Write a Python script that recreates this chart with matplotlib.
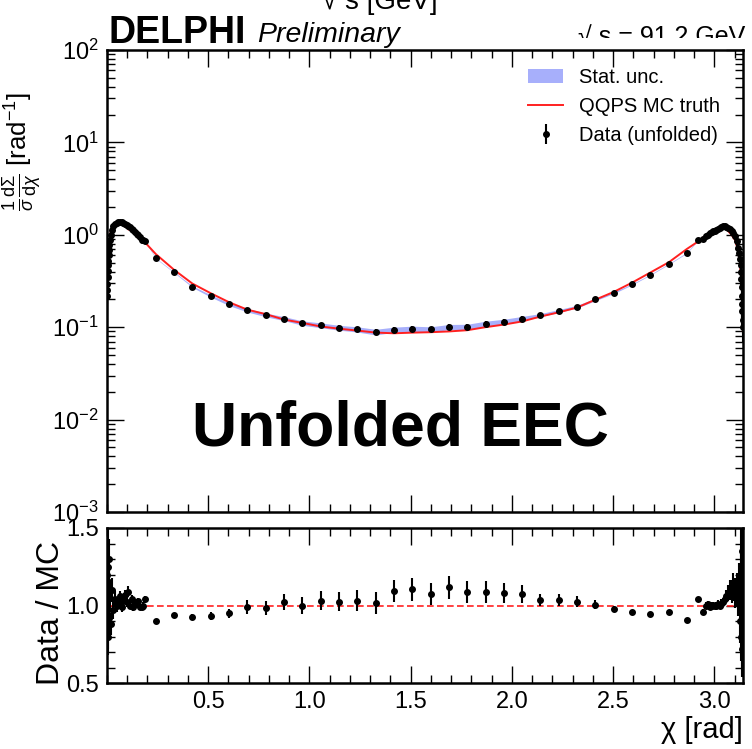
import numpy as np
import matplotlib
matplotlib.use('Agg')
import matplotlib.pyplot as plt
from matplotlib.ticker import MultipleLocator, LogLocator, NullFormatter, FixedLocator
from matplotlib.patches import Rectangle

plt.rcParams['font.family'] = ['Liberation Sans', 'DejaVu Sans']
plt.rcParams['mathtext.fontset'] = 'custom'
plt.rcParams['mathtext.rm'] = 'Liberation Sans'
plt.rcParams['mathtext.it'] = 'Liberation Sans:italic'
plt.rcParams['mathtext.bf'] = 'Liberation Sans:bold'
plt.rcParams['mathtext.sf'] = 'Liberation Sans'

# ---------------- data ----------------
x_left = [0.001, 0.0015, 0.002, 0.003, 0.004, 0.005, 0.006, 0.008, 0.010, 0.012, 0.015,
          0.019, 0.023, 0.031, 0.040, 0.048, 0.056, 0.064, 0.072, 0.081, 0.089, 0.097,
          0.106, 0.114, 0.122, 0.130, 0.139, 0.147, 0.155, 0.164, 0.172, 0.180, 0.188]
data_left = [0.22, 0.25, 0.29, 0.35, 0.41, 0.47, 0.52, 0.61, 0.69, 0.77, 0.87,
             0.99, 1.12, 1.25, 1.30, 1.34, 1.37, 1.39, 1.37, 1.34, 1.31, 1.29,
             1.24, 1.20, 1.16, 1.13, 1.08, 1.03, 1.00, 0.94, 0.88, 0.87, 0.86]
ratio_left = [0.95, 1.20, 0.85, 1.25, 0.90, 1.10, 0.80, 1.15, 0.92, 1.30, 1.05,
              0.88, 1.10, 0.97, 1.04, 1.00, 1.02, 1.06, 0.99, 1.03, 1.07, 1.02,
              1.09, 1.00, 1.04, 0.99, 1.02, 1.01, 1.03, 0.99, 0.99, 1.00, 1.04]
err_left = [0.30, 0.28, 0.25, 0.22, 0.20, 0.18, 0.15, 0.13, 0.12, 0.10, 0.09,
            0.08, 0.07, 0.06, 0.05, 0.04, 0.035, 0.03, 0.03, 0.03, 0.03, 0.03,
            0.03, 0.025, 0.025, 0.025, 0.02, 0.02, 0.02, 0.02, 0.02, 0.02, 0.02]

x_mid = [0.241, 0.331, 0.422, 0.512, 0.603, 0.693, 0.784, 0.874, 0.965, 1.055,
         1.146, 1.236, 1.327, 1.417, 1.508, 1.598, 1.689, 1.779, 1.870, 1.960,
         2.051, 2.141, 2.232, 2.322, 2.413, 2.503, 2.594, 2.684, 2.775, 2.865]
data_mid = [0.557, 0.393, 0.275, 0.218, 0.177, 0.153, 0.136, 0.124, 0.111, 0.105,
            0.0988, 0.0948, 0.0887, 0.094, 0.0964, 0.0948, 0.1005, 0.101, 0.109, 0.115,
            0.124, 0.135, 0.150, 0.167, 0.200, 0.236, 0.291, 0.370, 0.483, 0.640]
ratio_mid = [0.900, 0.939, 0.928, 0.934, 0.950, 0.988, 0.982, 1.025, 0.997, 1.031,
             1.025, 1.031, 1.014, 1.094, 1.104, 1.074, 1.117, 1.089, 1.089, 1.078,
             1.074, 1.035, 1.035, 1.023, 1.006, 0.980, 0.958, 0.947, 0.958, 0.909]
err_mid = [0.008, 0.010, 0.020, 0.028, 0.032, 0.045, 0.045, 0.050, 0.055, 0.060,
           0.060, 0.065, 0.070, 0.065, 0.065, 0.065, 0.065, 0.065, 0.065, 0.060,
           0.055, 0.040, 0.035, 0.035, 0.030, 0.020, 0.012, 0.010, 0.010, 0.010]

x_right = [2.919, 2.944, 2.961, 2.969, 2.977, 2.986, 2.994, 3.002, 3.010, 3.019, 3.027,
           3.035, 3.044, 3.052, 3.060, 3.069, 3.077, 3.085, 3.093, 3.101, 3.110, 3.118,
           3.122, 3.127, 3.130, 3.132, 3.134, 3.136, 3.137, 3.138, 3.139, 3.140, 3.141]
data_right = [0.88, 0.90, 0.98, 1.00, 1.04, 1.06, 1.09, 1.11, 1.14, 1.16, 1.18,
              1.21, 1.25, 1.23, 1.21, 1.18, 1.15, 1.10, 1.05, 0.96, 0.85, 0.72,
              0.64, 0.55, 0.47, 0.40, 0.33, 0.27, 0.22, 0.18, 0.15, 0.12, 0.10]
ratio_right = [1.042, 0.96, 1.00, 1.01, 0.99, 1.00, 1.005, 0.995, 1.00, 1.01, 1.00,
               1.01, 1.02, 1.04, 1.06, 1.08, 1.10, 1.09, 1.12, 1.08, 1.10, 1.06,
               1.12, 0.90, 1.15, 0.80, 1.25, 0.72, 1.35, 0.85, 1.20, 0.95, 1.10]
err_right = [0.015, 0.015, 0.02, 0.02, 0.02, 0.02, 0.02, 0.02, 0.025, 0.025, 0.025,
             0.03, 0.03, 0.035, 0.04, 0.05, 0.06, 0.07, 0.08, 0.09, 0.10, 0.12,
             0.14, 0.16, 0.18, 0.20, 0.22, 0.25, 0.28, 0.30, 0.30, 0.30, 0.30]

x_tick_labels = ['0.5', '1.0', '1.5', '2.0', '2.5', '3.0']
ratio_tick_labels = ['0.5', '1.0', '1.5']

x = np.array(x_left + x_mid + x_right)
data = np.array(data_left + data_mid + data_right)
ratio = np.array(ratio_left + ratio_mid + ratio_right)
relerr = np.array(err_left + err_mid + err_right)
mc = data / ratio

# ---------------- figure ----------------
fig = plt.figure(figsize=(7.52, 7.49), dpi=100)
W, H = 752.0, 749.0
ax1 = fig.add_axes([107 / W, 1 - 512 / H, 636 / W, 462 / H])
ax2 = fig.add_axes([107 / W, 1 - 683 / H, 636 / W, 155 / H])

band = ax1.fill_between(x, data * (1 - relerr), data * (1 + relerr),
                        color='#9ea6fb', lw=0, alpha=0.9, label='Stat. unc.')
mcline, = ax1.plot(x, mc, color='#ff2020', lw=1.4, label='QQPS MC truth')
eb = ax1.errorbar(x, data, yerr=data * relerr, fmt='o', color='black', ms=4,
                  elinewidth=1.5, capsize=0, label='Data (unfolded)')

ax1.set_yscale('log')
ax1.set_ylim(1e-3, 1e2)
ax1.set_xlim(0, np.pi)

xt = [float(s) for s in x_tick_labels]
for ax in (ax1, ax2):
    ax.tick_params(which='both', direction='in', top=True, right=True,
                   labelsize=17, pad=6)
    ax.tick_params(which='major', length=12, width=1.0)
    ax.tick_params(which='minor', length=6, width=1.0)
    for s in ax.spines.values():
        s.set_linewidth(1.8)
    ax.xaxis.set_major_locator(FixedLocator(xt))
    ax.xaxis.set_minor_locator(MultipleLocator(0.1))

ax1.yaxis.set_major_locator(LogLocator(base=10, numticks=10))
ax1.yaxis.set_minor_locator(LogLocator(base=10, subs=np.arange(2, 10), numticks=20))
ax1.yaxis.set_minor_formatter(NullFormatter())
ax1.tick_params(axis='x', labelbottom=False)

fig.text(22 / W, 1 - 152 / H,
         r'$\frac{1}{\sigma}\frac{\mathrm{d}\Sigma}{\mathrm{d}\chi}$ [rad$^{-1}$]',
         fontsize=18.5, rotation=90, ha='center', va='center')

leg = ax1.legend(handles=[band, mcline, eb],
                 labels=['Stat. unc.', 'QQPS MC truth', 'Data (unfolded)'],
                 loc='upper left', bbox_to_anchor=(528 / W, 1 - 68 / H),
                 bbox_transform=fig.transFigure, frameon=False, fontsize=14.5,
                 handlelength=1.75, handletextpad=0.8, labelspacing=0.5,
                 borderpad=0, borderaxespad=0)

# ratio panel
ax2.errorbar(x, ratio, yerr=ratio * relerr, fmt='o', color='black', ms=4,
             elinewidth=1.5, capsize=0, zorder=3)
ax2.axhline(1.0, color='#ff2020', lw=1.2, ls=(0, (4, 2)), zorder=2)
ax2.set_xlim(0, np.pi)
ax2.set_ylim(0.5, 1.5)
ax2.set_xticklabels(x_tick_labels)
ax2.yaxis.set_major_locator(FixedLocator([float(s) for s in ratio_tick_labels]))
ax2.yaxis.set_minor_locator(MultipleLocator(0.1))
ax2.set_yticklabels(ratio_tick_labels)
ax2.set_ylabel('Data / MC', fontsize=23)
ax2.yaxis.set_label_coords(-0.065, 0.45)
ax2.set_xlabel('χ [rad]', fontsize=21, loc='right', labelpad=2)

# header texts
fig.text(108 / W, 1 - 43 / H, 'DELPHI', fontsize=27, fontweight='bold', va='baseline')
fig.text(257 / W, 1 - 42 / H, 'Preliminary', fontsize=20.5, style='italic', va='baseline')
fig.text(745 / W, 1 - 44 / H, '√ s = 91.2 GeV', fontsize=18, ha='right', va='baseline')
fig.patches.append(Rectangle((555 / W, 1 - 48 / H), 197 / W, 10 / H,
                             transform=fig.transFigure, facecolor='white',
                             edgecolor='none', zorder=5))
fig.text(380 / W, 1 - 9 / H, '√ s [GeV]', fontsize=20, ha='center', va='baseline')

fig.text(400 / W, 1 - 445 / H, 'Unfolded EEC', fontsize=45, fontweight='bold',
         ha='center', va='baseline')

fig.savefig('out.png', dpi=100)
